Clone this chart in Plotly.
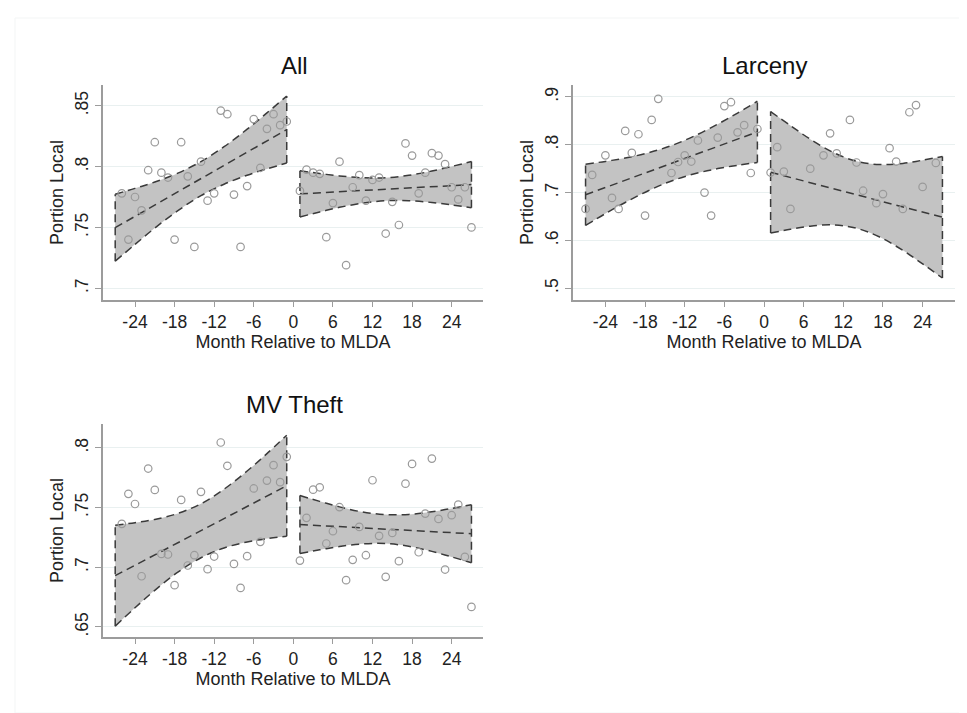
import plotly.graph_objects as go

# ---------------- data ----------------
# Scatter points (month relative to MLDA, portion local)
all_pre_x = [-26, -25, -24, -23, -22, -21, -20, -19, -18, -17, -16, -15, -14,
             -13, -12, -11, -10, -9, -8, -7, -6, -5, -4, -3, -2, -1]
all_pre_y = [.778, .740, .775, .764, .797, .820, .795, .791, .740, .820, .792, .734, .804,
             .772, .778, .846, .843, .777, .734, .784, .839, .799, .831, .843, .834, .837]
all_post_x = [1, 2, 3, 4, 5, 6, 7, 8, 9, 10, 11, 12, 13, 14, 15, 16, 17, 18, 19, 20,
              21, 22, 23, 24, 25, 26, 27]
all_post_y = [.780, .7975, .795, .794, .742, .770, .804, .719, .783, .793, .772, .789, .791,
              .745, .771, .752, .819, .809, .778, .795, .811, .809, .802, .783, .773, .783, .750]

larc_pre_x = [-27, -26, -24, -23, -22, -21, -20, -19, -18, -17, -16, -14, -13,
              -12, -11, -10, -9, -8, -7, -6, -5, -4, -3, -2, -1]
larc_pre_y = [.666, .737, .778, .689, .666, .829, .783, .822, .652, .852, .896, .741, .764,
              .778, .765, .809, .700, .652, .815, .881, .889, .826, .841, .741, .833]
larc_post_x = [1, 2, 3, 4, 7, 9, 10, 11, 13, 14, 15, 17, 18, 19, 20, 21, 22, 23, 24, 26]
larc_post_y = [.742, .795, .744, .666, .750, .778, .824, .782, .852, .763, .704, .678, .697,
               .793, .765, .666, .868, .883, .712, .762]

mv_pre_x = [-26, -25, -24, -23, -22, -21, -20, -19, -18, -17, -16, -15, -14,
            -13, -12, -11, -10, -9, -8, -7, -6, -5, -4, -3, -2, -1]
mv_pre_y = [.7364, .7615, .753, .6925, .7827, .7648, .7112, .7107, .685, .7564, .7015, .7101,
            .7632, .6984, .709, .8045, .785, .7028, .6827, .7093, .766, .7213, .7726, .7855,
            .7713, .7925]
mv_post_x = [1, 2, 3, 4, 5, 6, 7, 8, 9, 10, 11, 12, 13, 14, 15, 16, 17, 18, 19, 20,
             21, 22, 23, 24, 25, 26, 27]
mv_post_y = [.7056, .7414, .765, .767, .7199, .7302, .7503, .6892, .7062, .7338, .7101, .7729,
             .7263, .692, .7288, .7051, .77, .7866, .7126, .745, .791, .7405, .6981, .7436,
             .7525, .7087, .6668]

# Fitted line and 95% CI band
band_pre_x = [-27, -24, -21, -17.5, -14, -10.5, -7, -4, -1]
band_post_x = [1, 4, 7, 10.5, 14, 17.5, 21, 24, 27]
fit_pre_x = [-27, -1]
fit_post_x = [1, 27]

all_pre_hi = [.7773, .7821, .7873, .7946, .8041, .8163, .8307, .8441, .8579]
all_pre_lo = [.7223, .7361, .7495, .7638, .7761, .7855, .7929, .7981, .8029]
all_pre_fit = [.7498, .8304]
all_post_hi = [.7966, .7943, .7923, .7908, .7908, .7928, .7963, .8001, .8042]
all_post_lo = [.7586, .7627, .7665, .7700, .7720, .7720, .7705, .7685, .7662]
all_post_fit = [.7776, .7852]

larc_pre_hi = [.7595, .7653, .7724, .7832, .7983, .8186, .8432, .8664, .8910]
larc_pre_lo = [.6315, .6561, .6794, .7040, .7243, .7394, .7502, .7572, .7630]
larc_pre_fit = [.6955, .8270]
larc_post_hi = [.8695, .8401, .8117, .7840, .7655, .7587, .7611, .7678, .7755]
larc_post_lo = [.6155, .6233, .6299, .6324, .6255, .6071, .5793, .5510, .5215]
larc_post_fit = [.7425, .6485]

mv_pre_hi = [.7353, .7373, .7401, .7451, .7532, .7654, .7806, .7952, .8106]
mv_pre_lo = [.6507, .6661, .6807, .6959, .7080, .7162, .7212, .7240, .7260]
mv_pre_fit = [.693, .7683]
mv_post_hi = [.7601, .7552, .7506, .7463, .7441, .7443, .7465, .7493, .7524]
mv_post_lo = [.7115, .7146, .7174, .7196, .7199, .7176, .7133, .7087, .7038]
mv_post_fit = [.7358, .7281]

x_ticks = [-24, -18, -12, -6, 0, 6, 12, 18, 24]
x_ticktext = ["-24", "-18", "-12", "-6", "0", "6", "12", "18", "24"]
all_yticks = [.7, .75, .8, .85]
all_yticktext = [".7", ".75", ".8", ".85"]
larc_yticks = [.5, .6, .7, .8, .9]
larc_yticktext = [".5", ".6", ".7", ".8", ".9"]
mv_yticks = [.65, .7, .75, .8]
mv_yticktext = [".65", ".7", ".75", ".8"]

titles = ["All", "Larceny", "MV Theft"]
x_title = "Month Relative to MLDA"
y_title = "Portion Local"

# ---------------- styling ----------------
FONT = "Liberation Sans, Arial, Helvetica, sans-serif"
BAND = "#c3c3c3"
DASHC = "#3a3a3a"
DASH = "8px,5px"
MARK = "#9a9a9a"
AXC = "#9c9c9c"
GRID = "#e9f0f0"
TXT = "#222"

W, H = 967, 713

fig = go.Figure()


def add_band(xs, lo, hi, fx, fy, xa, ya):
    sfx = dict(xaxis=xa, yaxis=ya, showlegend=False, hoverinfo="skip")
    fig.add_trace(go.Scatter(x=xs, y=lo, mode="lines",
                             line=dict(width=0, shape="spline", color=BAND), **sfx))
    fig.add_trace(go.Scatter(x=xs, y=hi, mode="lines", fill="tonexty", fillcolor=BAND,
                             line=dict(width=0, shape="spline", color=BAND), **sfx))
    for ys in (lo, hi):
        fig.add_trace(go.Scatter(x=xs, y=ys, mode="lines",
                                 line=dict(width=1.5, shape="spline", color=DASHC, dash=DASH), **sfx))
    fig.add_trace(go.Scatter(x=[xs[0], xs[0], None, xs[-1], xs[-1]],
                             y=[lo[0], hi[0], None, lo[-1], hi[-1]], mode="lines",
                             line=dict(width=1.5, color=DASHC, dash=DASH), **sfx))
    fig.add_trace(go.Scatter(x=fx, y=fy, mode="lines",
                             line=dict(width=1.5, color=DASHC, dash=DASH), **sfx))


def add_pts(x, y, xa, ya):
    fig.add_trace(go.Scatter(x=x, y=y, mode="markers", xaxis=xa, yaxis=ya, showlegend=False,
                             marker=dict(symbol="circle-open", size=7.5,
                                         line=dict(width=1.2, color=MARK), color=MARK)))


panels = [
    ("x", "y", all_pre_x, all_pre_y, all_post_x, all_post_y,
     all_pre_lo, all_pre_hi, all_pre_fit, all_post_lo, all_post_hi, all_post_fit),
    ("x2", "y2", larc_pre_x, larc_pre_y, larc_post_x, larc_post_y,
     larc_pre_lo, larc_pre_hi, larc_pre_fit, larc_post_lo, larc_post_hi, larc_post_fit),
    ("x3", "y3", mv_pre_x, mv_pre_y, mv_post_x, mv_post_y,
     mv_pre_lo, mv_pre_hi, mv_pre_fit, mv_post_lo, mv_post_hi, mv_post_fit),
]

for (xa, ya, px, py, qx, qy, plo, phi, pfit, qlo, qhi, qfit) in panels:
    add_band(band_pre_x, plo, phi, fit_pre_x, pfit, xa, ya)
    add_band(band_post_x, qlo, qhi, fit_post_x, qfit, xa, ya)
    add_pts(px, py, xa, ya)
    add_pts(qx, qy, xa, ya)


def xd(a, b):
    return [a / W, b / W]


def yd(top, bottom):
    return [1 - bottom / H, 1 - top / H]


def xaxis(dom, rng, anchor):
    return dict(domain=dom, range=rng, anchor=anchor, tickvals=x_ticks, ticktext=x_ticktext,
                showgrid=False, zeroline=False, showline=True, linecolor=AXC, linewidth=1.6,
                ticks="outside", ticklen=5, tickwidth=1, tickcolor=AXC,
                tickfont=dict(family=FONT, size=17.5, color=TXT),
                title=dict(text=x_title, font=dict(family=FONT, size=18, color=TXT), standoff=0))


def yaxis(dom, rng, anchor, tv, tt):
    return dict(domain=dom, range=rng, anchor=anchor, tickvals=tv, ticktext=tt, tickangle=-90,
                showgrid=True, gridcolor=GRID, gridwidth=1, zeroline=False, showline=True,
                linecolor=AXC, linewidth=1.6, ticks="outside", ticklen=6, tickwidth=1,
                tickcolor=AXC, tickfont=dict(family=FONT, size=17.5, color=TXT),
                title=dict(text=y_title, font=dict(family=FONT, size=18, color=TXT), standoff=4))


fig.update_layout(
    width=W, height=H, margin=dict(l=0, r=0, t=0, b=0),
    paper_bgcolor="white", plot_bgcolor="white",
    xaxis=xaxis(xd(95, 475), [-28.85, 28.75], "y"),
    yaxis=yaxis(yd(77, 292), [0.6904, 0.867], "x", all_yticks, all_yticktext),
    xaxis2=xaxis(xd(565, 947), [-28.9, 28.9], "y2"),
    yaxis2=yaxis(yd(77, 292), [0.4755, 0.925], "x2", larc_yticks, larc_yticktext),
    xaxis3=xaxis(xd(95, 475), [-28.85, 28.75], "y3"),
    yaxis3=yaxis(yd(416, 629), [0.6416, 0.820], "x3", mv_yticks, mv_yticktext),
    showlegend=False,
)

title_pos = [(286, 57), (756, 57), (286, 396)]
for t, (cx, cy) in zip(titles, title_pos):
    fig.add_annotation(text=t, x=cx / W, y=1 - cy / H, xref="paper", yref="paper",
                       showarrow=False, xanchor="center", yanchor="middle",
                       font=dict(family=FONT, size=24, color="#111"))

# faint outer frame of the graph region
fig.add_shape(type="rect", xref="paper", yref="paper", x0=7 / W, x1=960 / W,
              y0=1 - 705 / H, y1=1 - 10 / H, line=dict(color="#f3f5f5", width=1), layer="below")

fig.write_html("out.html")
